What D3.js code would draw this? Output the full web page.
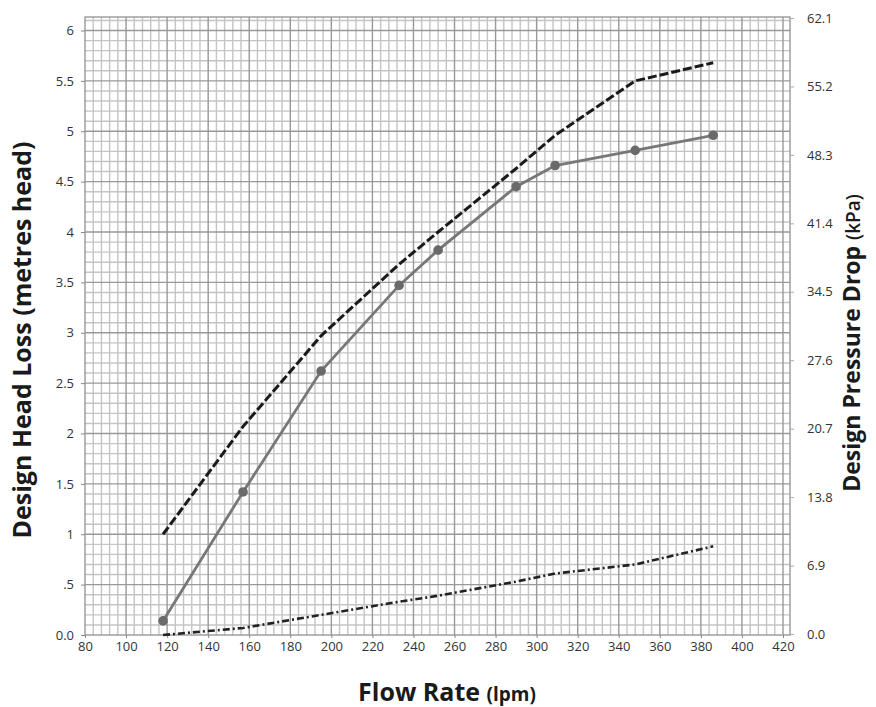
<!DOCTYPE html>
<html>
<head>
<meta charset="utf-8">
<script src="https://cdn.jsdelivr.net/npm/d3@7"></script>
<style>
  body { margin: 0; background: #fff; }
  svg { display: block; font-family: "Open Sans", sans-serif; }
</style>
</head>
<body>
<div id="chart"></div>
<script>
// Data
const flowRate = [118, 157, 195, 233, 252, 290, 309, 348, 386];
const upperCurve = [1.0, 2.07, 2.97, 3.68, 4.0, 4.63, 4.96, 5.5, 5.68];
const measured = [0.14, 1.42, 2.62, 3.47, 3.82, 4.45, 4.66, 4.81, 4.96];
const lowerCurve = [0.0, 0.07, 0.2, 0.33, 0.39, 0.53, 0.61, 0.7, 0.88];

const xTicks = d3.range(80, 421, 20);
const leftTicks = [0, 0.5, 1, 1.5, 2, 2.5, 3, 3.5, 4, 4.5, 5, 5.5, 6];
const leftLabels = ["0.0", ".5", "1", "1.5", "2", "2.5", "3", "3.5", "4", "4.5", "5", "5.5", "6"];
const rightTicks = [0, 6.9, 13.8, 20.7, 27.6, 34.5, 41.4, 48.3, 55.2, 62.1];

const W = 876, H = 707;
const plot = {left: 85, right: 790, top: 17, bottom: 635};

const svg = d3.select("#chart")
    .append("svg")
    .attr("width", W)
    .attr("height", H);

// Scales
const x = d3.scaleLinear().domain([80, 420]).range([85, 783]);
const y = d3.scaleLinear().domain([0, 6]).range([635, 30.5]);
const y2 = d3.scaleLinear().domain([0, 62.1]).range([634, 18]);

const xMax = x.invert(plot.right);
const yMax = y.invert(plot.top);

// Graph-paper grid: minor first, then major
const grid = svg.append("g");
grid.selectAll(".vminor")
    .data(d3.range(80, xMax, 4).filter(v => v % 20 !== 0))
    .join("line")
    .attr("x1", d => x(d)).attr("x2", d => x(d))
    .attr("y1", plot.top).attr("y2", plot.bottom)
    .style("stroke", "#c4c4c4").style("stroke-width", 1.4);
grid.selectAll(".hminor")
    .data(d3.range(1, Math.floor(yMax * 10) + 1).filter(v => v % 5 !== 0).map(v => v / 10))
    .join("line")
    .attr("x1", plot.left).attr("x2", plot.right)
    .attr("y1", d => y(d)).attr("y2", d => y(d))
    .style("stroke", "#c4c4c4").style("stroke-width", 1.4);
grid.selectAll(".vmajor")
    .data(xTicks.slice(1))
    .join("line")
    .attr("x1", d => x(d)).attr("x2", d => x(d))
    .attr("y1", plot.top).attr("y2", plot.bottom)
    .style("stroke", "#999").style("stroke-width", 1.4);
grid.selectAll(".hmajor")
    .data(leftTicks.slice(1))
    .join("line")
    .attr("x1", plot.left).attr("x2", plot.right)
    .attr("y1", d => y(d)).attr("y2", d => y(d))
    .style("stroke", "#999").style("stroke-width", 1.4);

// Frame
svg.append("rect")
    .attr("x", plot.left).attr("y", plot.top)
    .attr("width", plot.right - plot.left)
    .attr("height", plot.bottom - plot.top)
    .style("fill", "none")
    .style("stroke", "#999")
    .style("stroke-width", 1.4);

// Left axis
const leftAxis = svg.append("g")
    .attr("transform", `translate(${plot.left},0)`)
    .call(d3.axisLeft(y).tickValues(leftTicks).tickSize(4).tickPadding(7)
        .tickFormat((d, i) => leftLabels[i]));
leftAxis.select(".domain").remove();
leftAxis.selectAll("line").style("stroke", "#888");
leftAxis.selectAll("text").attr("font-size", 13).style("fill", "#333")
    .attr("font-family", "Open Sans");

// Right axis
const rightAxis = svg.append("g")
    .attr("transform", `translate(${plot.right},0)`)
    .call(d3.axisRight(y2).tickValues(rightTicks).tickSize(4).tickPadding(13)
        .tickFormat(d3.format(".1f")));
rightAxis.select(".domain").remove();
rightAxis.selectAll("line").style("stroke", "#aaa");
rightAxis.selectAll("text").attr("font-size", 13).style("fill", "#333")
    .attr("font-family", "Open Sans");

// Bottom axis
const bottomAxis = svg.append("g")
    .attr("transform", `translate(0,${plot.bottom})`)
    .call(d3.axisBottom(x).tickValues(xTicks).tickSize(3).tickPadding(4));
bottomAxis.select(".domain").remove();
bottomAxis.selectAll("line").style("stroke", "#888");
bottomAxis.selectAll("text").attr("font-size", 13).style("fill", "#333")
    .attr("font-family", "Open Sans");

// Lines
const line = d3.line()
    .x((d, i) => x(flowRate[i]))
    .y(d => y(d));

svg.append("path")
    .datum(lowerCurve)
    .attr("d", line)
    .style("fill", "none")
    .style("stroke", "#222")
    .style("stroke-width", 2.6)
    .style("stroke-dasharray", "7,3,2,3");

svg.append("path")
    .datum(upperCurve)
    .attr("d", line)
    .style("fill", "none")
    .style("stroke", "#1a1a1a")
    .style("stroke-width", 3)
    .style("stroke-dasharray", "9,3");

svg.append("path")
    .datum(measured)
    .attr("d", line)
    .style("fill", "none")
    .style("stroke", "#777")
    .style("stroke-width", 2.8);

svg.selectAll(".pt")
    .data(measured)
    .join("circle")
    .attr("cx", (d, i) => x(flowRate[i]))
    .attr("cy", d => y(d))
    .attr("r", 4.8)
    .style("fill", "#6a6a6a");

// Axis titles
svg.append("text")
    .attr("transform", `translate(31,${(plot.top + plot.bottom) / 2 + 14}) rotate(-90)`)
    .attr("text-anchor", "middle")
    .attr("font-size", 25)
    .attr("font-weight", "bold")
    .style("fill", "#1a1a1a")
    .text("Design Head Loss (metres head)");

const rt = svg.append("text")
    .attr("transform", `translate(860,${(plot.top + plot.bottom) / 2 + 17}) rotate(-90)`)
    .attr("text-anchor", "middle")
    .style("fill", "#1a1a1a");
rt.append("tspan").attr("font-size", 23).attr("font-weight", "bold").text("Design Pressure Drop ");
rt.append("tspan").attr("font-size", 19).attr("font-weight", 600).text("(kPa)");

const xt = svg.append("text")
    .attr("x", 447)
    .attr("y", 701)
    .attr("text-anchor", "middle")
    .style("fill", "#1a1a1a");
xt.append("tspan").attr("font-size", 25).attr("font-weight", "bold").text("Flow Rate ");
xt.append("tspan").attr("font-size", 19).attr("font-weight", "bold").text("(lpm)");
</script>
</body>
</html>
